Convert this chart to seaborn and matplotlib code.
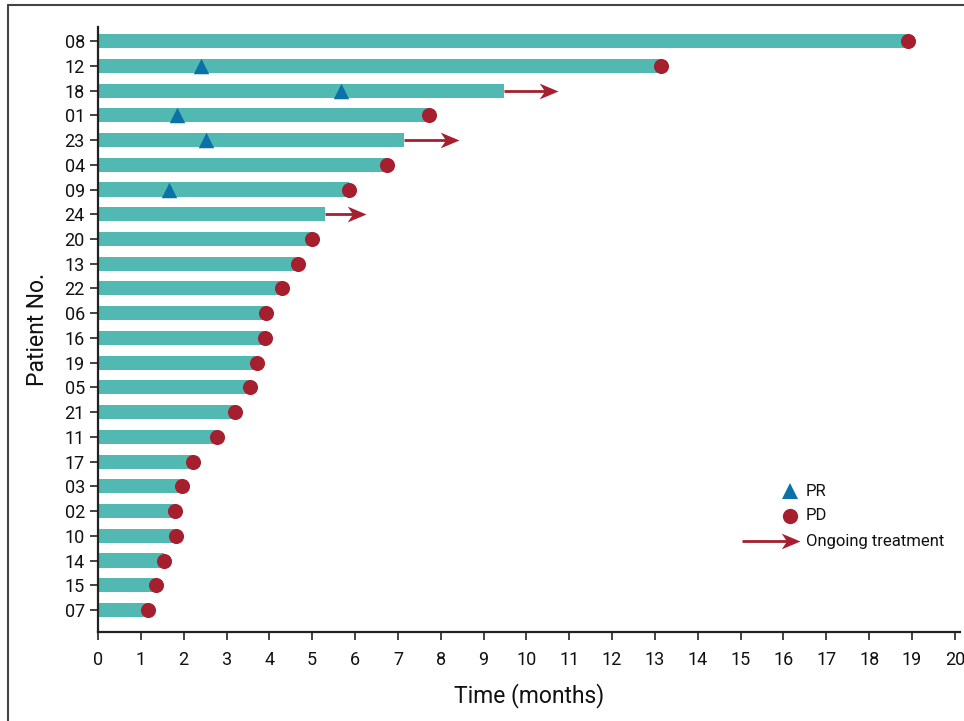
import matplotlib
matplotlib.use("Agg")
import matplotlib.pyplot as plt
from matplotlib.lines import Line2D
from matplotlib.path import Path
import seaborn as sns
import pandas as pd

# ---- data ----
patients = ["08", "12", "18", "01", "23", "04", "09", "24", "20", "13", "22", "06",
            "16", "19", "05", "21", "11", "17", "03", "02", "10", "14", "15", "07"]
duration = [18.9, 13.15, 9.47, 7.72, 7.14, 6.74, 5.86, 5.30, 4.99, 4.67, 4.29, 3.92,
            3.90, 3.71, 3.55, 3.20, 2.78, 2.22, 1.96, 1.80, 1.82, 1.54, 1.35, 1.17]
ongoing_patients = ["18", "23", "24"]
arrow_len = [1.26, 1.28, 0.96]
pr_patients = ["12", "18", "01", "23", "09"]
pr_time = [2.40, 5.67, 1.85, 2.51, 1.65]
x_ticks = list(range(0, 21))

teal = "#52B9B2"
red = "#A51F2E"
blue = "#0B72A8"
dark = "#222222"

# stealth arrow head marker, tip at origin
head = Path([(0, 0), (-1, 0.42), (-0.72, 0), (-1, -0.42), (0, 0)],
            [Path.MOVETO, Path.LINETO, Path.LINETO, Path.LINETO, Path.CLOSEPOLY])

sns.set_theme(style="white")
plt.rcParams["font.family"] = ["Roboto", "DejaVu Sans"]

df = pd.DataFrame({"patient": patients, "duration": duration})

fig = plt.figure(figsize=(9.64, 7.21), dpi=100)
ax = fig.add_axes([98 / 964, 1 - 632 / 721, (960 - 98) / 964, (632 - 27) / 721])

sns.barplot(data=df, x="duration", y="patient", order=patients, orient="h",
            color=teal, saturation=1, width=0.57, ax=ax, linewidth=0)

pos = {p: i for i, p in enumerate(patients)}

# PD dots
pd_y = [pos[p] for p in patients if p not in ongoing_patients]
pd_x = [d for p, d in zip(patients, duration) if p not in ongoing_patients]
ax.scatter(pd_x, pd_y, marker="o", s=118, color=red, zorder=4, linewidths=0)

# PR triangles
ax.scatter(pr_time, [pos[p] for p in pr_patients], marker="^", s=125, color=blue,
           zorder=4, linewidths=0)

# ongoing arrows
dur_map = dict(zip(patients, duration))
for p, L in zip(ongoing_patients, arrow_len):
    x0 = dur_map[p]
    ax.plot([x0, x0 + L - 0.2], [pos[p], pos[p]], color=red, lw=2, zorder=4,
            solid_capstyle="butt")
    ax.plot([x0 + L], [pos[p]], marker=head, ms=27, color=red, mew=0,
            linestyle="none", zorder=5)

ax.set_xlim(0, 20.12)
ax.set_ylim(23.89, -0.57)
ax.set_xticks(x_ticks)
ax.set_xticklabels([str(t) for t in x_ticks])

for s in ["top", "right"]:
    ax.spines[s].set_visible(False)
for s in ["left", "bottom"]:
    ax.spines[s].set_color(dark)
    ax.spines[s].set_linewidth(1.6)

ax.tick_params(axis="both", which="major", length=5.5, width=1.2, color=dark,
               labelsize=13, labelcolor="#111111", left=True, bottom=True)
ax.tick_params(axis="x", pad=8)
ax.tick_params(axis="y", pad=4)
ax.set_xlabel("Time (months)", fontsize=16.5, color="#111111", labelpad=10)
ax.set_ylabel("Patient No.", fontsize=16.5, color="#111111", labelpad=11)

# legend (manual)
tr = ax.transAxes
ax.plot([0.803], [0.233], marker="^", ms=11, color=blue, transform=tr, clip_on=False,
        linestyle="none", mew=0)
ax.plot([0.803], [0.192], marker="o", ms=11, color=red, transform=tr, clip_on=False,
        linestyle="none", mew=0)
ax.plot([0.747, 0.800], [0.150, 0.150], color=red, lw=2, transform=tr, clip_on=False,
        solid_capstyle="butt")
ax.plot([0.814], [0.150], marker=head, ms=27, color=red, mew=0, transform=tr,
        clip_on=False, linestyle="none")
for yy, txt in zip([0.233, 0.192, 0.150], ["PR", "PD", "Ongoing treatment"]):
    ax.text(0.821, yy, txt, transform=tr, fontsize=12, va="center", ha="left",
            color="#111111")

# figure border
fig.add_artist(Line2D([8 / 964, 8 / 964], [0, 1 - 5 / 721], color="#444444", lw=1.5))
fig.add_artist(Line2D([8 / 964, 1], [1 - 5 / 721, 1 - 5 / 721], color="#444444", lw=1.5))

fig.savefig("out.png", dpi=100)
